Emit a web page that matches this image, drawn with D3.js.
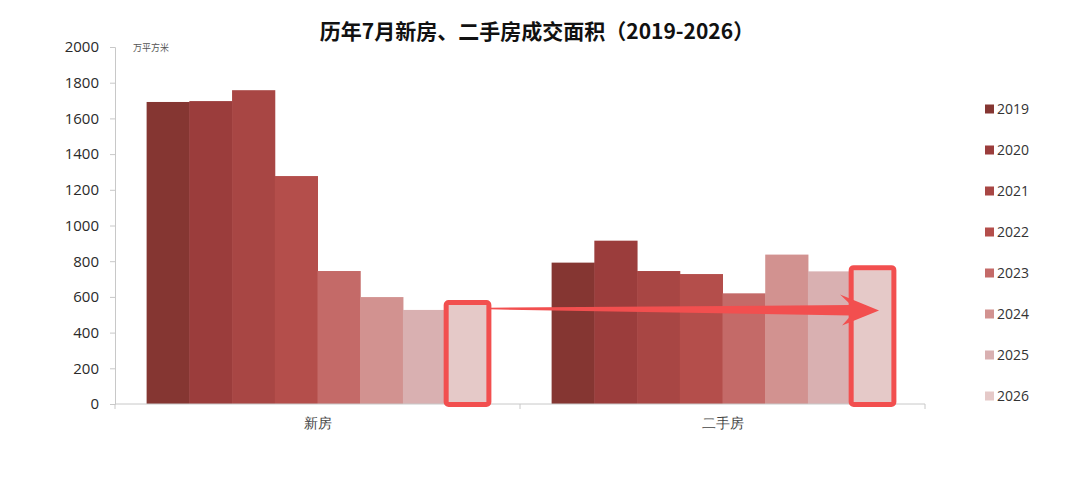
<!DOCTYPE html>
<html lang="zh">
<head>
  <meta charset="utf-8">
  <title>历年7月新房、二手房成交面积</title>
  <script src="https://d3js.org/d3.v7.min.js"></script>
  <style>
    body { margin: 0; background: #fff; font-family: "Noto Sans CJK SC", "Noto Sans", sans-serif; }
    .axis path, .axis line { stroke: #c8c8c8; }
    .axis text { fill: #333; }
    .num { font-family: "Open Sans", "Noto Sans", sans-serif; }
  </style>
</head>
<body>
<svg id="chart" width="1080" height="477"></svg>
<script>
  // données (万平方米)
  const categories = ["新房", "二手房"];
  const years = ["2019", "2020", "2021", "2022", "2023", "2024", "2025", "2026"];
  const newHouse = [1692, 1697, 1758, 1277, 745, 599, 527, 555];
  const secondHand = [792, 915, 745, 728, 620, 837, 743, 750];
  const colors = ["#853632", "#9b3d3c", "#a84644", "#b44e4b", "#c46a68", "#d29290", "#d9b0b1", "#e5c9c8"];
  const yTicks = [0, 200, 400, 600, 800, 1000, 1200, 1400, 1600, 1800, 2000];

  const svg = d3.select("#chart");

  const x0 = d3.scaleBand().domain(categories).range([115, 925]).padding(0);
  const x1 = d3.scaleBand().domain(years).range([0, x0.bandwidth()]).paddingInner(0).paddingOuter(0.74);
  const y = d3.scaleLinear().domain([0, 2000]).range([404, 47]);
  const color = d3.scaleOrdinal().domain(years).range(colors);

  const series = { "新房": newHouse, "二手房": secondHand };

  // titre
  svg.append("text")
    .attr("x", 537).attr("y", 39)
    .attr("text-anchor", "middle")
    .style("font-size", "21px").style("font-weight", "bold").style("fill", "#111")
    .text("历年7月新房、二手房成交面积（2019-2026）");

  // axe Y
  svg.append("g")
    .attr("class", "axis")
    .attr("transform", "translate(115,0)")
    .call(d3.axisLeft(y).tickValues(yTicks).tickFormat(d3.format("d")).tickSize(5).tickPadding(11))
    .call(g => g.selectAll("text").attr("class", "num").style("fill", "#2a2a2a").style("font-size", "15px"));

  svg.append("text")
    .attr("x", 133).attr("y", 51)
    .style("font-size", "9px").style("fill", "#555")
    .text("万平方米");

  // barres
  categories.forEach(cat => {
    svg.append("g")
      .attr("transform", `translate(${x0(cat)},0)`)
      .selectAll("rect")
      .data(years.map((yr, i) => ({ year: yr, value: series[cat][i] })))
      .join("rect")
      .attr("x", d => x1(d.year))
      .attr("y", d => y(d.value))
      .attr("width", x1.bandwidth() + 0.5)
      .attr("height", d => y(0) - y(d.value))
      .attr("fill", d => color(d.year));
  });

  // axe X
  svg.append("g")
    .attr("class", "axis")
    .attr("transform", "translate(0,404)")
    .call(d3.axisBottom(x0).tickSize(0).tickPadding(14))
    .call(g => g.selectAll("text").style("fill", "#444").style("font-size", "14px"))
    .call(g => g.select(".domain").attr("d", "M115,0H925"));

  svg.append("g")
    .selectAll("line")
    .data([115, 520, 925])
    .join("line")
    .attr("x1", d => d).attr("x2", d => d)
    .attr("y1", 404).attr("y2", 409)
    .attr("stroke", "#c8c8c8");

  // encadrés rouges autour de 2026
  const bw = x1.bandwidth();
  categories.forEach(cat => {
    const v = series[cat][years.indexOf("2026")];
    const bx = x0(cat) + x1("2026");
    svg.append("rect")
      .attr("x", bx + 0.5).attr("y", y(v) - 2.5)
      .attr("width", bw).attr("height", y(0) - y(v) + 3)
      .attr("rx", 2.5)
      .attr("fill", "none")
      .attr("stroke", "#f24f4f")
      .attr("stroke-width", 5);
  });

  // flèche
  const tailX = x0("新房") + x1("2026") + bw;
  const tailY = y(535);
  const tipX = x0("二手房") + x1("2026") + bw / 2 + 7;
  const tipY = tailY + 2;
  const arrow = [
    [tailX, tailY - 0.8],
    [tipX - 28, tipY - 5.5],
    [tipX - 39, tipY - 16],
    [tipX, tipY],
    [tipX - 37, tipY + 15],
    [tipX - 28, tipY + 5],
    [tailX, tailY + 0.8]
  ];
  svg.append("path")
    .attr("d", d3.line()(arrow) + "Z")
    .attr("fill", "#f24f4f");

  // légende
  const legend = svg.append("g").attr("transform", "translate(985,109)");
  const item = legend.selectAll("g")
    .data(years)
    .join("g")
    .attr("transform", (d, i) => `translate(0,${i * 41})`);
  item.append("rect")
    .attr("x", 0).attr("y", -4.5)
    .attr("width", 9).attr("height", 9)
    .attr("fill", d => color(d));
  item.append("text")
    .attr("class", "num")
    .attr("x", 12).attr("y", 5)
    .style("font-size", "14px").style("fill", "#333")
    .text(d => d);
</script>
</body>
</html>
